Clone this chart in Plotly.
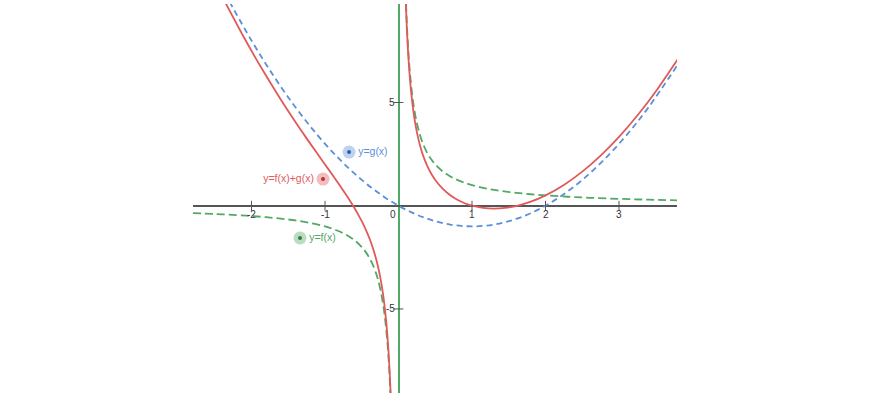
import plotly.graph_objects as go

# ---- data ----
f_left_x = [-2.8, -2.5, -2.2, -2.0, -1.8, -1.6, -1.4, -1.2, -1.0, -0.9, -0.8, -0.7, -0.6, -0.5, -0.45,
            -0.4, -0.35, -0.3, -0.27, -0.24, -0.21, -0.19, -0.17, -0.15, -0.14, -0.13, -0.12, -0.11]
f_left_y = [-0.357, -0.4, -0.4545, -0.5, -0.5556, -0.625, -0.7143, -0.8333, -1.0, -1.111, -1.25, -1.4286,
            -1.6667, -2.0, -2.222, -2.5, -2.857, -3.333, -3.704, -4.167, -4.762, -5.263, -5.882, -6.667,
            -7.143, -7.692, -8.333, -9.091]
f_right_x = [0.102, 0.11, 0.12, 0.13, 0.14, 0.15, 0.17, 0.19, 0.21, 0.24, 0.27, 0.3, 0.35, 0.4, 0.45, 0.5,
             0.6, 0.7, 0.8, 0.9, 1.0, 1.2, 1.4, 1.6, 1.8, 2.0, 2.3, 2.6, 3.0, 3.4, 3.8]
f_right_y = [9.804, 9.091, 8.333, 7.692, 7.143, 6.667, 5.882, 5.263, 4.762, 4.167, 3.704, 3.333, 2.857, 2.5,
             2.222, 2.0, 1.667, 1.429, 1.25, 1.111, 1.0, 0.833, 0.714, 0.625, 0.556, 0.5, 0.435, 0.385,
             0.333, 0.294, 0.263]

g_x = [-2.3, -2.0, -1.7, -1.4, -1.1, -0.8, -0.5, -0.2, 0.1, 0.4, 0.7, 1.0, 1.3, 1.6, 1.9, 2.2, 2.5, 2.8,
       3.1, 3.4, 3.8]
g_y = [9.89, 8.0, 6.29, 4.76, 3.41, 2.24, 1.25, 0.44, -0.19, -0.64, -0.91, -1.0, -0.91, -0.64, -0.19, 0.44,
       1.25, 2.24, 3.41, 4.76, 6.84]

h_left_x = [-2.35, -2.1, -1.85, -1.6, -1.4, -1.25, -1.1, -1.0, -0.9, -0.8, -0.75, -0.7, -0.65, -0.6, -0.55,
            -0.5, -0.45, -0.4, -0.35, -0.3, -0.27, -0.25, -0.23, -0.21, -0.19, -0.17, -0.155, -0.14,
            -0.13, -0.12, -0.11, -0.105]
h_left_y = [9.797, 8.134, 6.582, 5.135, 4.046, 3.262, 2.501, 2.0, 1.499, 0.99, 0.729, 0.461, 0.184, -0.107,
            -0.416, -0.75, -1.120, -1.54, -2.035, -2.643, -3.091, -3.4375, -3.835, -4.298, -4.846, -5.513,
            -6.117, -6.843, -7.415, -8.079, -8.859, -9.303]
h_right_x = [0.1, 0.11, 0.12, 0.13, 0.14, 0.155, 0.17, 0.19, 0.21, 0.24, 0.27, 0.3, 0.35, 0.4, 0.45, 0.5,
             0.6, 0.7, 0.8, 0.9, 1.0, 1.15, 1.3, 1.45, 1.6, 1.8, 2.0, 2.25, 2.5, 2.75, 3.0, 3.25, 3.5, 3.8]
h_right_y = [9.81, 8.883, 8.108, 7.449, 6.882, 6.166, 5.571, 4.919, 4.386, 3.744, 3.237, 2.823, 2.280, 1.86,
             1.525, 1.25, 0.827, 0.519, 0.29, 0.121, 0.0, -0.108, -0.141, -0.108, -0.015, 0.196, 0.5, 1.007,
             1.65, 2.426, 3.333, 4.370, 5.536, 7.103]

x_ticks = [-2, -1, 1, 2, 3]
x_tick_labels = ["-2", "-1", "1", "2", "3"]
y_ticks = [-5, 5]
y_tick_labels = ["-5", "5"]
origin_label = "0"

label_names = ["y=g(x)", "y=f(x)+g(x)", "y=f(x)"]
label_x = [-0.673, -1.027, -1.34]
label_y = [2.60, 1.29, -1.56]

RED = "#e05a5a"
BLUE = "#5b8fd8"
GREEN = "#52a865"
AXIS = "#555555"
TICKTXT = "#333333"

fig = go.Figure()

# curves
fig.add_trace(go.Scatter(x=g_x, y=g_y, mode="lines", line=dict(color=BLUE, width=1.8, dash="6px,4px", shape="spline")))
for xs, ys in [(f_left_x, f_left_y), (f_right_x, f_right_y)]:
    fig.add_trace(go.Scatter(x=xs, y=ys, mode="lines", line=dict(color=GREEN, width=1.8, dash="8px,4px", shape="spline")))
for xs, ys in [(h_left_x, h_left_y), (h_right_x, h_right_y)]:
    fig.add_trace(go.Scatter(x=xs, y=ys, mode="lines", line=dict(color=RED, width=1.8, shape="spline", smoothing=0.6)))

# ticks
fig.add_trace(go.Scatter(x=x_ticks, y=[0] * len(x_ticks), mode="markers",
                         marker=dict(symbol="line-ns", size=7, line=dict(color=AXIS, width=1)), cliponaxis=False))
fig.add_trace(go.Scatter(x=[0] * len(y_ticks), y=y_ticks, mode="markers",
                         marker=dict(symbol="line-ew", size=7, line=dict(color=AXIS, width=1)), cliponaxis=False))

annotations = []
for t, l in zip(x_ticks, x_tick_labels):
    annotations.append(dict(x=t, y=0, text=l, showarrow=False, xanchor="center", yanchor="top", yshift=-1,
                            font=dict(size=10, color=TICKTXT, family="Arial")))
annotations.append(dict(x=0, y=0, text=origin_label, showarrow=False, xanchor="right", yanchor="top",
                        yshift=-1, xshift=-1, font=dict(size=10, color=TICKTXT, family="Arial")))
for t, l in zip(y_ticks, y_tick_labels):
    annotations.append(dict(x=0, y=t, text=l, showarrow=False, xanchor="right", yanchor="middle", xshift=-2,
                            font=dict(size=10, color=TICKTXT, family="Arial")))

# labels
colors = [BLUE, RED, GREEN]
fill = ["rgba(91,143,216,0.4)", "rgba(224,90,90,0.4)", "rgba(82,168,101,0.4)"]
dark = ["#2d5fa8", "#b83333", "#2f7d40"]
positions = ["middle right", "middle left", "middle right"]
for i in range(3):
    fig.add_trace(go.Scatter(x=[label_x[i]], y=[label_y[i]], mode="markers+text",
                             marker=dict(size=13, color=fill[i], line=dict(width=0)),
                             text=[label_names[i]], textposition=positions[i],
                             textfont=dict(size=10.5, color=colors[i], family="Arial")))
    fig.add_trace(go.Scatter(x=[label_x[i]], y=[label_y[i]], mode="markers",
                             marker=dict(size=4, color=dark[i])))

fig.update_layout(
    width=870, height=400,
    margin=dict(l=193, r=193, t=4, b=7),
    plot_bgcolor="white", paper_bgcolor="white",
    showlegend=False,
    annotations=annotations,
    xaxis=dict(range=[-2.796, 3.789], showgrid=False, showticklabels=False, ticks="",
               zeroline=True, zerolinecolor=GREEN, zerolinewidth=1.6, showline=False, fixedrange=True),
    yaxis=dict(range=[-9.07, 9.77], showgrid=False, showticklabels=False, ticks="",
               zeroline=True, zerolinecolor=AXIS, zerolinewidth=1.5, showline=False, fixedrange=True),
)

fig.write_html("out.html", config={"displayModeBar": False},
               post_script="document.body.style.margin='0';document.body.style.overflow='hidden';")
